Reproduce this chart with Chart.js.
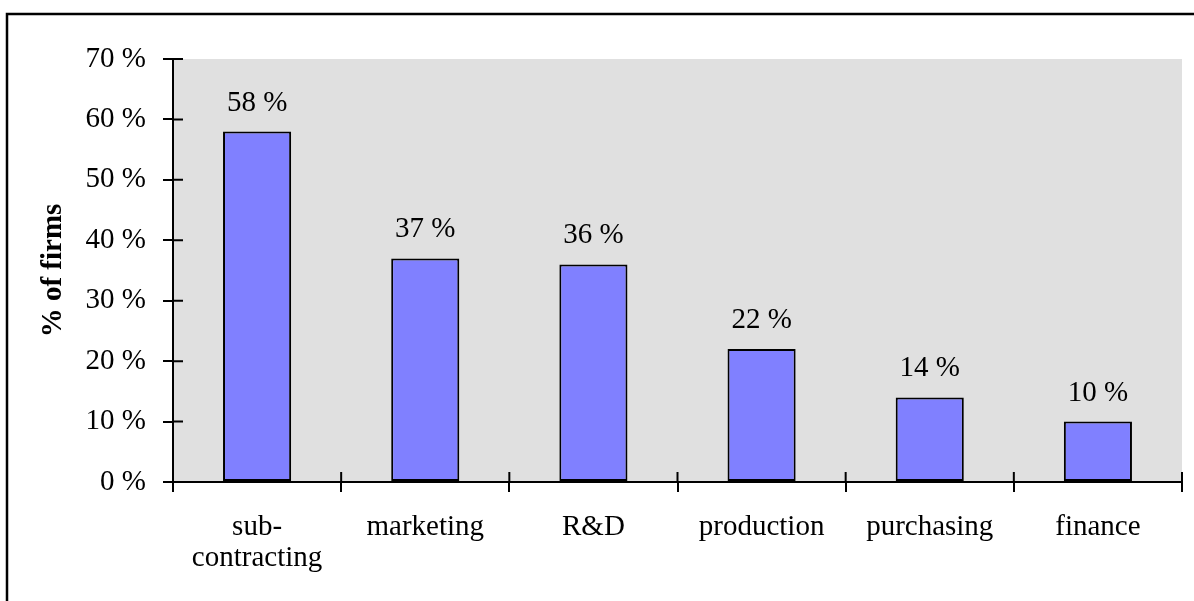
<!DOCTYPE html>
<html>
<head>
<meta charset="utf-8">
<script src="https://cdn.jsdelivr.net/npm/chart.js@4.4.0/dist/chart.umd.min.js"></script>
<style>
  body { margin: 0; background: #fff; }
  #divchart { width: 1194px; height: 601px; }
</style>
</head>
<body>
<div id="divchart"><canvas id="chart" width="1194" height="601"></canvas></div>
<script>
const categories = [['sub-', 'contracting'], 'marketing', 'R&D', 'production', 'purchasing', 'finance'];
const shares = [58, 37, 36, 22, 14, 10];
const yTicks = [0, 10, 20, 30, 40, 50, 60, 70];

const serif = "'Liberation Serif', 'Times New Roman', serif";

// grey plot background and the frame lines
const backdrop = {
    id: 'backdrop',
    beforeDraw(chart) {
        const c = chart.ctx;
        const a = chart.chartArea;
        c.save();
        c.fillStyle = '#e0e0e0';
        c.fillRect(a.left, a.top, a.right - a.left, a.bottom - a.top);
        c.strokeStyle = '#000';
        c.lineWidth = 2.5;
        c.beginPath();
        c.moveTo(7, 601);
        c.lineTo(7, 14);
        c.lineTo(1194, 14);
        c.stroke();
        c.restore();
    },
    // category labels are set a little looser; x axis is drawn after the bars (z: 1)
    afterDatasetsDraw(chart) {
        chart.ctx.letterSpacing = '0.6px';
    },
    afterDraw(chart) {
        chart.ctx.letterSpacing = '0px';
    }
};

// ticks cross the axes, so draw the inner half too, plus value labels
const extras = {
    id: 'extras',
    afterDraw(chart) {
        const c = chart.ctx;
        const x = chart.scales.x;
        const y = chart.scales.y;
        c.save();
        c.strokeStyle = '#000';
        c.lineWidth = 2;
        c.beginPath();
        yTicks.forEach(v => {
            const py = y.getPixelForValue(v);
            c.moveTo(x.left, py);
            c.lineTo(x.left + 10, py);
        });
        for (let i = 0; i <= categories.length; i++) {
            const px = x.getPixelForValue(i - 0.5);
            c.moveTo(px, y.bottom);
            c.lineTo(px, y.bottom - 10);
        }
        c.stroke();

        c.fillStyle = '#000';
        c.font = '29px ' + serif;
        c.textAlign = 'center';
        c.textBaseline = 'alphabetic';
        chart.getDatasetMeta(0).data.forEach((bar, i) => {
            c.fillText(shares[i] + ' %', bar.x, bar.y - 21);
        });
        c.restore();
    }
};

new Chart(document.getElementById('chart'), {
    type: 'bar',
    data: {
        labels: categories,
        datasets: [{
            data: shares,
            backgroundColor: '#8080ff',
            borderColor: '#000',
            borderWidth: 2,
            borderSkipped: false,
            categoryPercentage: 1,
            barPercentage: 0.405
        }]
    },
    options: {
        responsive: false,
        animation: false,
        layout: { padding: { top: 59, right: 12, left: 0, bottom: 0 } },
        plugins: {
            legend: { display: false },
            tooltip: { enabled: false }
        },
        scales: {
            x: {
                z: 1,
                afterFit(scale) { scale.height = 119; },
                grid: { drawOnChartArea: false, drawTicks: true, tickLength: 10, color: '#000', lineWidth: 2 },
                border: { display: true, color: '#000', width: 2 },
                ticks: {
                    color: '#000',
                    padding: 20,
                    maxRotation: 0,
                    autoSkip: false,
                    font: { family: serif, size: 29, lineHeight: 1.07 }
                }
            },
            y: {
                min: 0,
                max: 70,
                afterFit(scale) { scale.width = 173; },
                afterBuildTicks(scale) { scale.ticks = yTicks.map(v => ({ value: v })); },
                grid: { drawOnChartArea: false, drawTicks: true, tickLength: 10, color: '#000', lineWidth: 2 },
                border: { display: true, color: '#000', width: 2 },
                ticks: {
                    color: '#000',
                    padding: 17,
                    font: { family: serif, size: 29 },
                    callback: v => v + ' %'
                },
                title: {
                    display: true,
                    text: '% of firms',
                    color: '#000',
                    font: { family: serif, size: 29, weight: 'bold' },
                    padding: { top: 36, bottom: 0 }
                }
            }
        }
    },
    plugins: [backdrop, extras]
});
</script>
</body>
</html>
